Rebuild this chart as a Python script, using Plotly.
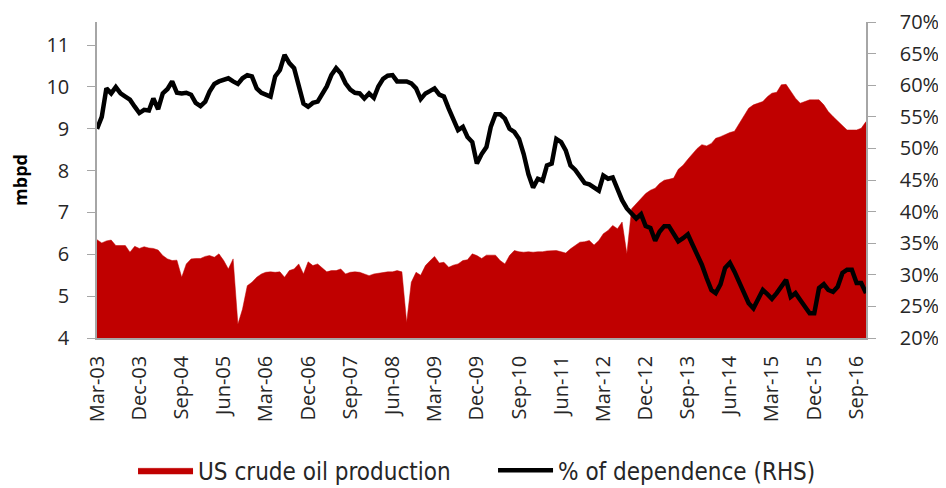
import pandas as pd
import plotly.graph_objects as go

# monthly, Mar-03 .. Nov-16
months = pd.date_range("2003-03-01", periods=165, freq="MS")

# US crude oil production, mbpd
production = [
    6.35, 6.27, 6.32, 6.34, 6.21, 6.21, 6.21, 6.05, 6.19, 6.14,
    6.18, 6.15, 6.14, 6.10, 5.97, 5.89, 5.85, 5.86, 5.45, 5.77,
    5.89, 5.90, 5.90, 5.95, 5.97, 5.93, 6.01, 5.85, 5.65, 5.89,
    4.33, 4.69, 5.25, 5.33, 5.45, 5.53, 5.57, 5.58, 5.57, 5.58,
    5.45, 5.61, 5.65, 5.77, 5.53, 5.82, 5.73, 5.77, 5.69, 5.58,
    5.61, 5.61, 5.65, 5.53, 5.57, 5.58, 5.57, 5.53, 5.49, 5.53,
    5.55, 5.57, 5.58, 5.58, 5.61, 5.58, 4.37, 5.33, 5.57, 5.50,
    5.73, 5.85, 5.95, 5.79, 5.81, 5.69, 5.74, 5.77, 5.85, 5.87,
    6.01, 5.97, 5.90, 5.98, 5.98, 5.98, 5.85, 5.77, 5.97, 6.09,
    6.06, 6.05, 6.06, 6.05, 6.06, 6.06, 6.08, 6.09, 6.09, 6.06,
    6.03, 6.13, 6.21, 6.29, 6.30, 6.33, 6.22, 6.33, 6.49, 6.57,
    6.69, 6.61, 6.77, 6.01, 7.09, 7.21, 7.34, 7.45, 7.53, 7.58,
    7.69, 7.77, 7.79, 7.82, 8.03, 8.13, 8.27, 8.41, 8.53, 8.62,
    8.59, 8.65, 8.77, 8.81, 8.86, 8.91, 8.94, 9.13, 9.33, 9.49,
    9.57, 9.61, 9.65, 9.77, 9.85, 9.87, 10.05, 10.06, 9.90, 9.73,
    9.61, 9.65, 9.69, 9.69, 9.69, 9.57, 9.41, 9.29, 9.18, 9.09,
    8.97, 8.97, 8.97, 9.01, 9.17,
]

# % of dependence on imports (right axis)
dependence = [
    53.1, 55.0, 59.5, 58.7, 59.7, 58.7, 58.2, 57.7, 56.6, 55.6,
    56.1, 56.0, 57.9, 56.2, 58.7, 59.4, 60.6, 58.8, 58.7, 58.8,
    58.5, 57.2, 56.7, 57.4, 59.0, 60.2, 60.6, 60.9, 61.1, 60.6,
    60.2, 61.1, 61.6, 61.4, 59.5, 58.8, 58.5, 58.2, 61.4, 62.4,
    64.8, 63.5, 62.7, 59.8, 57.1, 56.6, 57.2, 57.4, 58.7, 59.8,
    61.6, 62.7, 61.9, 60.3, 59.3, 58.8, 58.7, 57.9, 58.7, 58.0,
    59.8, 61.0, 61.5, 61.6, 60.6, 60.6, 60.6, 60.3, 59.5, 57.8,
    58.7, 59.1, 59.5, 58.5, 58.2, 56.3, 54.5, 52.9, 53.4, 51.8,
    51.0, 47.6, 49.1, 50.2, 53.4, 55.4, 55.4, 54.7, 53.1, 52.6,
    51.5, 49.1, 45.9, 43.8, 45.2, 44.9, 47.3, 47.6, 51.5, 51.0,
    49.7, 47.3, 46.6, 45.4, 44.5, 44.3, 43.9, 43.3, 45.7, 45.2,
    45.4, 43.6, 41.8, 40.5, 39.6, 38.9, 39.6, 37.7, 37.4, 35.4,
    36.8, 37.7, 37.7, 36.6, 35.3, 35.8, 36.4, 34.8, 33.2, 31.6,
    29.5, 27.6, 27.1, 28.5, 31.1, 31.9, 30.5, 28.9, 27.3, 25.5,
    24.7, 26.0, 27.6, 26.9, 26.2, 27.1, 28.1, 29.2, 26.5, 27.1,
    26.0, 24.9, 23.9, 23.9, 27.9, 28.5, 27.6, 27.3, 28.1, 30.3,
    30.8, 30.8, 28.7, 28.7, 27.1,
]

tick_font = dict(family="Open Sans, Liberation Sans, sans-serif", size=20, color="#262626")
legend_font = dict(family="Liberation Sans Narrow, DejaVu Sans Condensed, Liberation Sans, sans-serif",
                   size=24, color="#262626")

fig = go.Figure()

fig.add_trace(go.Scatter(
    x=months, y=production, name="US crude oil production",
    mode="lines", fill="tozeroy", fillcolor="#C00000",
    line=dict(color="#C00000", width=0.5),
))

fig.add_trace(go.Scatter(
    x=months, y=dependence, name="% of dependence (RHS)",
    mode="lines", yaxis="y2",
    line=dict(color="#000000", width=4.5),
))

# the page body adds an 8px margin, so the figure is a bit smaller than the window
fig.update_layout(
    width=930, height=480,
    margin=dict(l=89, r=72, t=14, b=150, autoexpand=False),
    paper_bgcolor="white", plot_bgcolor="white",
    showlegend=True,
    legend=dict(orientation="h", x=0.515, xanchor="center", y=-0.42, yanchor="middle",
                font=legend_font, itemwidth=55, entrywidth=290, traceorder="normal"),
    xaxis=dict(
        type="date", range=[months[0], months[-1]], automargin=False,
        tick0="2003-03-01", dtick="M9", tickformat="%b-%y", tickangle=-90,
        tickfont=tick_font, showgrid=False, zeroline=False, ticklabelstandoff=8,
        showline=True, linecolor="#A6A6A6", linewidth=1.5, ticks="",
    ),
    yaxis=dict(
        range=[4, 11.55], tickvals=[4, 5, 6, 7, 8, 9, 10, 11], automargin=False,
        tickfont=tick_font, showgrid=False, zeroline=False, ticklabelstandoff=14,
        showline=True, linecolor="#A6A6A6", linewidth=1.5,
        ticks="outside", ticklen=8, tickcolor="#A6A6A6",
        title=dict(text="<b>mbpd</b>", font=dict(family="Open Sans, sans-serif", size=18, color="#000"),
                   standoff=28),
    ),
    yaxis2=dict(
        overlaying="y", side="right", range=[20, 70], dtick=5, ticksuffix="%", automargin=False,
        tickfont=tick_font, showgrid=False, zeroline=False, ticklabelstandoff=20,
        showline=True, linecolor="#A6A6A6", linewidth=1.5,
        ticks="outside", ticklen=8, tickcolor="#A6A6A6",
    ),
)

fig.write_html("out.html")
